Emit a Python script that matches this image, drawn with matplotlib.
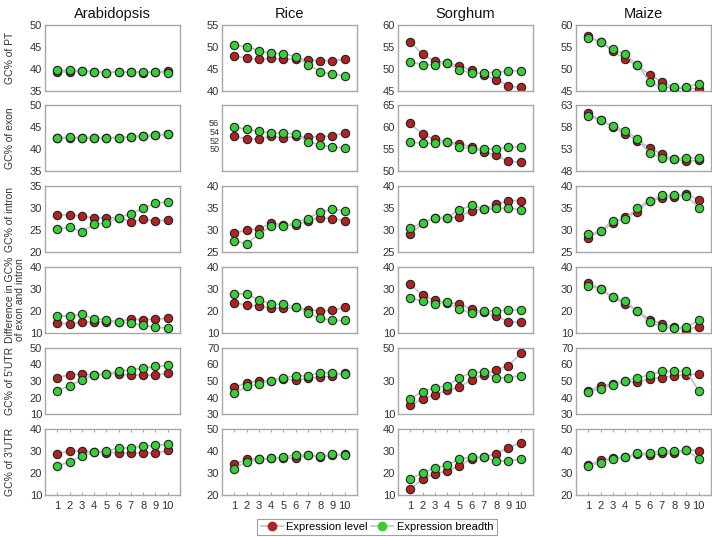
import matplotlib
matplotlib.use("Agg")
import matplotlib.pyplot as plt
from matplotlib.lines import Line2D

plt.rcParams['font.family'] = ['Liberation Sans', 'DejaVu Sans']

x = list(range(1, 11))
species = ["Arabidopsis", "Rice", "Sorghum", "Maize"]
features = ["GC% of PT", "GC% of exon", "GC% of intron",
            "Difference in GC%\nof exon and intron", "GC% of 5'UTR", "GC% of 3'UTR"]

# Expression level (red) and expression breadth (green), [feature][species]
level = [
    [[39.4, 39.3, 39.5, 39.4, 39.2, 39.3, 39.3, 39.2, 39.4, 39.5],
     [48.0, 47.5, 47.2, 47.4, 47.2, 47.3, 47.1, 46.9, 46.9, 47.2],
     [56.2, 53.3, 51.8, 51.4, 50.7, 49.7, 48.6, 47.6, 46.1, 45.8],
     [57.4, 56.1, 54.1, 52.2, 50.8, 48.7, 47.1, 45.7, 45.6, 45.5]],
    [[42.5, 42.5, 42.6, 42.6, 42.6, 42.6, 42.8, 42.9, 43.1, 43.4],
     [52.9, 52.3, 52.3, 52.9, 52.5, 52.9, 52.7, 52.8, 53.0, 53.6],
     [60.8, 58.3, 57.2, 56.7, 56.2, 55.4, 54.3, 53.6, 52.2, 52.0],
     [61.1, 59.6, 58.0, 56.5, 54.9, 53.3, 51.8, 50.7, 50.2, 50.4]],
    [[28.3, 28.5, 28.1, 27.8, 27.8, 27.8, 26.9, 27.4, 27.1, 27.2],
     [29.4, 29.9, 30.3, 31.5, 31.2, 31.1, 32.1, 32.8, 32.6, 32.1],
     [29.0, 31.5, 32.8, 32.8, 33.0, 34.4, 34.7, 35.8, 36.7, 36.7],
     [28.2, 29.7, 31.5, 32.9, 34.1, 36.7, 37.2, 37.6, 38.2, 36.9]],
    [[14.5, 14.2, 14.8, 15.1, 15.1, 15.1, 16.4, 16.1, 16.4, 16.6],
     [23.7, 22.7, 22.2, 21.5, 21.2, 21.6, 20.6, 20.0, 20.3, 21.6],
     [32.2, 27.1, 24.9, 23.7, 23.3, 20.7, 19.6, 17.6, 15.2, 14.8],
     [32.9, 30.0, 26.2, 23.1, 20.1, 16.1, 14.2, 12.6, 11.5, 12.9]],
    [[32.0, 33.8, 34.2, 33.8, 34.2, 34.4, 33.4, 33.8, 33.4, 34.8],
     [46.3, 48.6, 50.2, 50.2, 51.4, 50.4, 51.6, 52.5, 52.9, 54.9],
     [15.2, 19.1, 21.6, 24.3, 26.3, 30.8, 33.9, 36.8, 39.2, 46.8],
     [43.9, 47.1, 48.2, 49.8, 49.2, 51.4, 52.0, 53.3, 53.7, 54.5]],
    [[28.8, 30.0, 30.0, 29.5, 29.3, 29.3, 29.0, 29.3, 29.0, 30.3],
     [33.9, 36.2, 36.5, 36.6, 36.9, 36.6, 38.0, 37.4, 38.0, 38.8],
     [12.6, 17.3, 19.7, 20.8, 23.3, 26.5, 27.2, 28.8, 31.5, 33.8],
     [33.5, 35.8, 36.8, 37.1, 38.5, 38.0, 38.9, 38.9, 40.4, 40.2]],
]
breadth = [
    [[39.7, 39.8, 39.6, 39.4, 39.2, 39.3, 39.4, 39.3, 39.4, 39.1],
     [50.4, 50.1, 49.2, 48.6, 48.5, 47.8, 46.0, 44.4, 43.8, 43.5],
     [51.6, 51.0, 51.0, 51.4, 49.7, 49.1, 49.2, 49.2, 49.6, 49.6],
     [57.1, 56.1, 54.5, 53.3, 51.0, 47.1, 45.8, 45.8, 45.9, 46.7]],
    [[42.6, 42.7, 42.6, 42.6, 42.4, 42.6, 42.8, 43.0, 43.2, 43.4],
     [55.0, 54.5, 54.0, 53.7, 53.7, 53.3, 51.7, 50.9, 50.5, 50.2],
     [56.6, 56.3, 56.3, 56.7, 55.5, 55.0, 55.1, 55.0, 55.5, 55.4],
     [60.4, 59.6, 58.2, 57.2, 55.3, 52.0, 51.0, 50.7, 51.0, 51.0]],
    [[25.2, 25.7, 24.5, 26.3, 26.6, 27.8, 28.7, 29.9, 31.1, 31.4],
     [27.5, 26.9, 29.0, 30.9, 30.8, 31.7, 32.6, 34.1, 34.7, 34.4],
     [30.5, 31.6, 32.8, 32.8, 34.6, 35.6, 34.7, 34.9, 35.0, 34.6],
     [29.0, 29.7, 32.1, 32.4, 35.1, 36.7, 37.9, 37.9, 37.7, 35.1]],
    [[17.8, 17.6, 18.5, 16.4, 16.0, 15.1, 14.5, 13.5, 12.6, 12.3],
     [27.9, 27.7, 25.2, 23.1, 23.0, 21.9, 19.0, 16.7, 15.7, 15.7],
     [25.9, 24.5, 23.4, 23.9, 20.7, 19.1, 19.9, 20.1, 20.3, 20.6],
     [31.4, 30.0, 26.2, 24.5, 19.9, 14.9, 12.7, 12.3, 12.7, 15.7]],
    [[24.0, 27.2, 30.6, 33.8, 34.2, 36.0, 36.8, 37.8, 38.8, 39.4],
     [42.5, 46.7, 48.0, 50.2, 52.0, 53.1, 53.1, 55.1, 54.9, 54.1],
     [19.1, 23.6, 25.9, 27.1, 32.0, 35.1, 35.5, 31.8, 32.1, 33.3],
     [43.5, 45.1, 47.6, 49.8, 51.8, 53.7, 55.9, 55.9, 55.9, 44.1]],
    [[23.1, 25.2, 27.6, 29.5, 30.0, 31.2, 31.5, 32.2, 32.6, 33.0],
     [31.9, 35.1, 36.2, 36.6, 37.2, 38.3, 38.0, 37.7, 38.5, 38.0],
     [17.3, 20.0, 22.3, 23.6, 26.3, 27.3, 27.2, 25.4, 25.6, 26.2],
     [33.4, 34.6, 36.5, 37.1, 39.0, 39.0, 40.2, 39.8, 40.4, 36.2]],
]

ylims = [
    [(35, 50), (40, 55), (45, 60), (45, 60)],
    [(35, 50), (45, 60), (50, 65), (48, 63)],
    [(20, 35), (25, 40), (25, 40), (25, 40)],
    [(10, 40), (10, 40), (10, 40), (10, 40)],
    [(10, 50), (30, 70), (10, 50), (30, 70)],
    [(10, 40), (20, 50), (10, 40), (20, 50)],
]
yticks = [
    [[35, 40, 45, 50], [40, 45, 50, 55], [45, 50, 55, 60], [45, 50, 55, 60]],
    [[35, 40, 45, 50], [50, 52, 54, 56], [50, 55, 60, 65], [48, 53, 58, 63]],
    [[20, 25, 30, 35], [25, 30, 35, 40], [25, 30, 35, 40], [25, 30, 35, 40]],
    [[10, 20, 30, 40]] * 4,
    [[10, 20, 30, 40, 50], [30, 40, 50, 60, 70], [10, 30, 50], [30, 40, 50, 60, 70]],
    [[10, 20, 30, 40], [20, 30, 40, 50], [10, 20, 30, 40], [20, 30, 40, 50]],
]

RED = '#B22222'
GREEN = '#3ACD3A'
LINEC = '#C4C4C4'
W, H = 712, 537
fig = plt.figure(figsize=(W / 100, H / 100), dpi=100)

col_left = [45, 222, 398, 576]
row_top = [25, 105, 186, 267, 348, 429]
aw, ah = 135, 66

for r in range(6):
    for c in range(4):
        ax = fig.add_axes([col_left[c] / W, 1 - (row_top[r] + ah) / H, aw / W, ah / H])
        ax.plot(x, level[r][c], '-o', color=LINEC, lw=1.2, marker='o', ms=6,
                mfc=RED, mec='#222222', mew=0.8, zorder=2)
        ax.plot(x, breadth[r][c], '-o', color=LINEC, lw=1.2, marker='o', ms=6,
                mfc=GREEN, mec='#222222', mew=0.8, zorder=3)
        ax.set_xlim(0, 11)
        ax.set_ylim(*ylims[r][c])
        ax.set_yticks(yticks[r][c])
        for s in ax.spines.values():
            s.set_color('#A8A8A8')
            s.set_linewidth(1.0)
        lsize = 6.5 if (r == 1 and c == 1) else 8
        ax.tick_params(axis='y', length=0, labelsize=lsize, labelcolor='#333333', pad=2)
        if r == 5:
            ax.set_xticks(x)
            ax.tick_params(axis='x', direction='in', length=2, top=True, bottom=True,
                           color='#A8A8A8', labelsize=8, labelcolor='#333333', pad=4)
        else:
            ax.set_xticks([])
        if r == 0:
            ax.set_title(species[c], fontsize=10.5, pad=5, color='#111111')

for r in range(6):
    yc = 1 - (row_top[r] + ah / 2) / H
    xc = 15 / W if '\n' in features[r] else 10 / W
    fig.text(xc, yc, features[r], rotation=90, ha='center', va='center',
             fontsize=7.5, color='#333333', linespacing=1.1)

handles = [Line2D([], [], color=LINEC, lw=1.2, marker='o', ms=6, mfc=RED, mec=RED),
           Line2D([], [], color=LINEC, lw=1.2, marker='o', ms=6, mfc=GREEN, mec=GREEN)]
leg = fig.legend(handles, ["Expression level", "Expression breadth"], loc='center',
                 bbox_to_anchor=(377 / W, 1 - 527 / H), ncol=2, fontsize=8,
                 frameon=True, fancybox=False, handlelength=2.0, handletextpad=0.3,
                 columnspacing=0.3, borderpad=0.3, edgecolor='#888888')
leg.get_frame().set_linewidth(0.8)

fig.savefig('out.png', dpi=100)
